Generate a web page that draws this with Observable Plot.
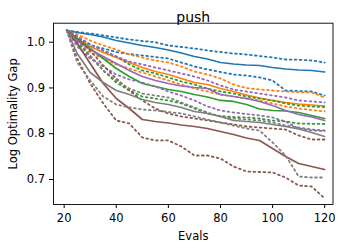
<!DOCTYPE html>
<html><head><meta charset="utf-8">
<script src="https://cdn.jsdelivr.net/npm/d3@7"></script>
<script src="https://cdn.jsdelivr.net/npm/@observablehq/plot@0.6"></script>
<style>body{margin:0;background:#fff}</style>
</head><body><div id="chart"></div>
<script>
const evals = [21,25,30,35,40,45,50,55,60,65,70,75,80,85,90,95,100,105,110,115,120];

const blueMean = [1.0256,1.0212,1.0168,1.0114,1.0037,0.9982,0.9928,0.9884,0.983,0.9764,0.9687,0.9633,0.9556,0.9524,0.9502,0.9491,0.9447,0.9414,0.9393,0.9382,0.9349];
const blueHi   = [1.0256,1.0223,1.019,1.0147,1.0103,1.0059,1.0026,1.0,0.9928,0.9895,0.9862,0.9819,0.9786,0.9753,0.9731,0.9698,0.9666,0.9622,0.9616,0.96,0.9556];
const blueLo   = [1.0256,1.0103,0.9928,0.9862,0.9786,0.9742,0.9709,0.9677,0.9644,0.9556,0.9469,0.9404,0.9349,0.9294,0.9272,0.9229,0.9163,0.8945,0.8934,0.8923,0.8835];

const orangeMean = [1.0256,1.0081,0.9906,0.9775,0.9666,0.9556,0.9447,0.936,0.9294,0.9207,0.9119,0.9076,0.8988,0.8923,0.8846,0.8781,0.8727,0.8683,0.865,0.8628,0.8606];
const orangeHi   = [1.0256,1.0168,1.0037,0.9928,0.984,0.9731,0.9666,0.96,0.9556,0.9469,0.936,0.9294,0.9207,0.9076,0.8999,0.8966,0.8945,0.8923,0.8907,0.8901,0.8792];
const orangeLo   = [1.0256,0.9993,0.9775,0.9644,0.9513,0.9425,0.9338,0.925,0.9163,0.9076,0.8988,0.8923,0.8857,0.8813,0.877,0.8727,0.8661,0.8595,0.8551,0.8519,0.8486];

const greenMean = [1.0256,1.0081,0.9862,0.9644,0.9425,0.925,0.9097,0.9032,0.8966,0.8923,0.8857,0.8803,0.8727,0.8705,0.8639,0.854,0.8508,0.8497,0.8464,0.8398,0.8333];
const greenHi   = [1.0256,1.0125,0.995,0.9819,0.9687,0.9513,0.9382,0.9316,0.9229,0.9141,0.9076,0.8988,0.8923,0.8879,0.8813,0.877,0.8727,0.8661,0.8617,0.8595,0.8584];
const greenLo   = [1.0256,0.9993,0.9687,0.9382,0.9119,0.8945,0.8813,0.877,0.8727,0.8661,0.8551,0.8442,0.8387,0.8366,0.8355,0.8333,0.8289,0.8267,0.8224,0.8217,0.8213];

const purpleMean = [1.0256,1.0037,0.984,0.9687,0.9535,0.9382,0.925,0.9163,0.9097,0.9043,0.901,0.8988,0.8857,0.8813,0.877,0.8705,0.8617,0.8508,0.842,0.8366,0.8289];
const purpleHi   = [1.0256,1.0125,0.995,0.9819,0.9687,0.9578,0.9513,0.9447,0.9382,0.9316,0.925,0.9163,0.9054,0.8966,0.8923,0.8879,0.8835,0.8792,0.8727,0.8705,0.8683];
const purpleLo   = [1.0256,0.9906,0.9644,0.9469,0.9294,0.9185,0.9119,0.9032,0.8923,0.8835,0.8727,0.8595,0.8508,0.8464,0.8431,0.8398,0.8355,0.8267,0.8114,0.8071,0.806];

const brownMean = [1.0256,0.9972,0.9535,0.9097,0.877,0.8551,0.8311,0.8267,0.8234,0.8191,0.8158,0.8114,0.8049,0.7984,0.7907,0.7853,0.7678,0.7503,0.735,0.7285,0.7219];
const brownHi   = [1.0256,1.0081,0.9819,0.949,0.9207,0.8945,0.8727,0.8551,0.844,0.8377,0.8333,0.8289,0.8245,0.8202,0.8158,0.8136,0.8114,0.8092,0.7962,0.7874,0.7874];
const brownLo   = [1.0256,0.9644,0.9097,0.8661,0.8289,0.8224,0.7918,0.7853,0.7853,0.7721,0.7525,0.7525,0.7459,0.7285,0.7175,0.7164,0.7154,0.7044,0.6869,0.6847,0.6586];

const grayMean = [1.0256,0.9753,0.9338,0.9119,0.8945,0.8857,0.8748,0.8683,0.8639,0.8573,0.8486,0.8442,0.8377,0.8289,0.8267,0.8245,0.8202,0.8158,0.8103,0.8027,0.794];
const grayHi   = [1.0256,1.0037,0.9709,0.9382,0.9163,0.8988,0.8879,0.8835,0.8792,0.8683,0.8573,0.8464,0.8377,0.8333,0.8311,0.8289,0.8245,0.818,0.8136,0.8092,0.8071];
const grayLo   = [1.0256,0.9556,0.9163,0.8813,0.8639,0.8573,0.853,0.8508,0.8475,0.8442,0.8377,0.8311,0.8245,0.818,0.8114,0.8071,0.7809,0.7525,0.7066,0.7044,0.7044];

const xTicks = [20,40,60,80,100,120];
const yTicks = [0.7,0.8,0.9,1.0];

const series = [
  {color:"#1f77b4", mean:blueMean, lo:blueLo, hi:blueHi},
  {color:"#ff7f0e", mean:orangeMean, lo:orangeLo, hi:orangeHi},
  {color:"#2ca02c", mean:greenMean, lo:greenLo, hi:greenHi},
  {color:"#9467bd", mean:purpleMean, lo:purpleLo, hi:purpleHi},
  {color:"#8c564b", mean:brownMean, lo:brownLo, hi:brownHi},
  {color:"#7f7f7f", mean:grayMean, lo:grayLo, hi:grayHi}
];

const toRows = arr => evals.map((x,i) => ({x, y: arr[i]}));
const marks = [];
for (const s of series) {
  marks.push(Plot.line(toRows(s.mean), {x:"x", y:"y", stroke:s.color, strokeWidth:1.7}));
  marks.push(Plot.line(toRows(s.lo), {x:"x", y:"y", stroke:s.color, strokeWidth:1.8, strokeDasharray:"1.7,3.3"}));
  marks.push(Plot.line(toRows(s.hi), {x:"x", y:"y", stroke:s.color, strokeWidth:1.8, strokeDasharray:"1.7,3.3"}));
}

const chart = Plot.plot({
  width: 338, height: 243,
  marginLeft: 53, marginRight: 5.5, marginTop: 22.7, marginBottom: 39,
  style: {fontFamily: "DejaVu Sans", fontSize: "11.5px", background: "#fff", color: "#000"},
  x: {domain: [15.9, 123.2]},
  y: {domain: [0.6454, 1.0415]},
  marks: [
    ...marks,
    Plot.frame({stroke: "#000", strokeWidth: 0.9}),
    Plot.axisX({ticks: xTicks, tickSize: 4, tickPadding: 5, tickFormat: d => String(d), label: null, fontSize: 11.5}),
    Plot.axisY({ticks: yTicks, tickSize: 4, tickPadding: 4.5, tickFormat: d => d.toFixed(1), label: null, fontSize: 11.5}),
    Plot.text(["push"], {frameAnchor: "top", dy: -11, fontSize: 14, text: d => d}),
    Plot.text(["Evals"], {frameAnchor: "bottom", dy: 35, fontSize: 11.5, text: d => d}),
    Plot.text(["Log Optimality Gap"], {frameAnchor: "left", dx: -40, rotate: -90, textAnchor: "middle", fontSize: 11.5, text: d => d})
  ]
});
document.getElementById("chart").appendChild(chart);
</script>
</body></html>
